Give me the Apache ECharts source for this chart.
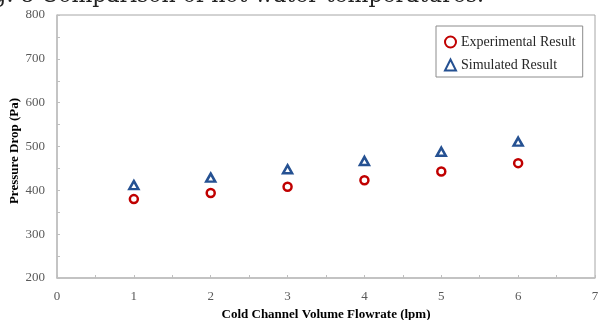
<!DOCTYPE html>
<html>
<head>
<meta charset="utf-8">
<script src="https://cdn.jsdelivr.net/npm/echarts@6/dist/echarts.min.js"></script>
<style>
  html, body { margin: 0; padding: 0; background: #fff; }
  #chart { width: 598px; height: 320px; }
</style>
</head>
<body>
<div id="chart"></div>
<script>
// Pressure drop versus cold-channel flowrate: measured vs simulated
const flowrate = [1, 2, 3, 4, 5, 6];
const experimental = [380, 394, 408, 423, 443, 462];
const simulated = [412, 429, 448, 467, 488, 511];

const seriesNames = ['Experimental Result', 'Simulated Result'];
const captionText = 'Fig. 8 Comparison of hot water temperatures.';
const xAxisName = 'Cold Channel Volume Flowrate (lpm)';
const yAxisName = 'Pressure Drop (Pa)';

const serif = '"Liberation Serif", "Times New Roman", serif';
const axisGray = '#bfbfbf';
const labelGray = '#595959';

const chart = echarts.init(document.getElementById('chart'), null, { renderer: 'canvas' });

chart.setOption({
  animation: false,
  backgroundColor: '#ffffff',
  grid: {
    left: 57, right: 3, top: 15, bottom: 42,
    outerBoundsMode: 'none',
    containLabel: false,
    show: true, borderColor: '#a6a6a6', borderWidth: 1
  },
  graphic: [
    {
      // figure caption running off the top edge
      type: 'text',
      left: -30, top: -15,
      style: {
        text: captionText,
        font: '22px "DejaVu Serif", serif',
        fill: '#222'
      },
      silent: true
    },
    {
      // vertical axis title, rotated to read bottom-to-top
      type: 'text',
      x: 15, y: 151,
      rotation: Math.PI / 2,
      style: {
        text: yAxisName,
        font: 'bold 13px "Liberation Serif", serif',
        fill: '#000',
        align: 'center',
        verticalAlign: 'middle'
      },
      silent: true
    }
  ],
  legend: {
    orient: 'vertical',
    left: 436, top: 26,
    padding: [9, 7, 5, 8],
    itemGap: 9,
    itemWidth: 11, itemHeight: 11,
    borderColor: '#8c8c8c', borderWidth: 1,
    backgroundColor: '#fff',
    textStyle: { fontFamily: serif, fontSize: 14, color: '#262626' },
    data: seriesNames
  },
  xAxis: {
    type: 'value', min: 0, max: 7, interval: 1,
    name: xAxisName, nameLocation: 'middle', nameGap: 27,
    nameTextStyle: { fontFamily: serif, fontSize: 13, fontWeight: 'bold', color: '#000' },
    axisLine: { show: true, lineStyle: { color: axisGray, width: 1.5 } },
    axisTick: { show: true, inside: true, length: 3, lineStyle: { color: axisGray } },
    minorTick: { show: true, splitNumber: 2, length: 3, lineStyle: { color: axisGray } },
    axisLabel: { fontFamily: serif, fontSize: 13, color: labelGray, margin: 12 },
    splitLine: { show: false }
  },
  yAxis: {
    type: 'value', min: 200, max: 800, interval: 100,
    axisLine: { show: true, lineStyle: { color: axisGray, width: 1.5 } },
    axisTick: { show: true, inside: true, length: 3, lineStyle: { color: axisGray } },
    minorTick: { show: true, splitNumber: 2, length: 3, lineStyle: { color: axisGray } },
    axisLabel: { fontFamily: serif, fontSize: 13, color: labelGray, margin: 12 },
    splitLine: { show: false }
  },
  series: [
    {
      name: seriesNames[0],
      type: 'scatter',
      symbol: 'circle',
      symbolSize: 8,
      itemStyle: { color: '#ffffff', borderColor: '#c00000', borderWidth: 2.5, opacity: 1 },
      data: flowrate.map((x, i) => [x, experimental[i]])
    },
    {
      name: seriesNames[1],
      type: 'scatter',
      symbol: 'triangle',
      symbolSize: [9, 8],
      itemStyle: { color: '#ffffff', borderColor: '#255192', borderWidth: 2.5, opacity: 1 },
      data: flowrate.map((x, i) => [x, simulated[i]])
    }
  ]
});
</script>
</body>
</html>
